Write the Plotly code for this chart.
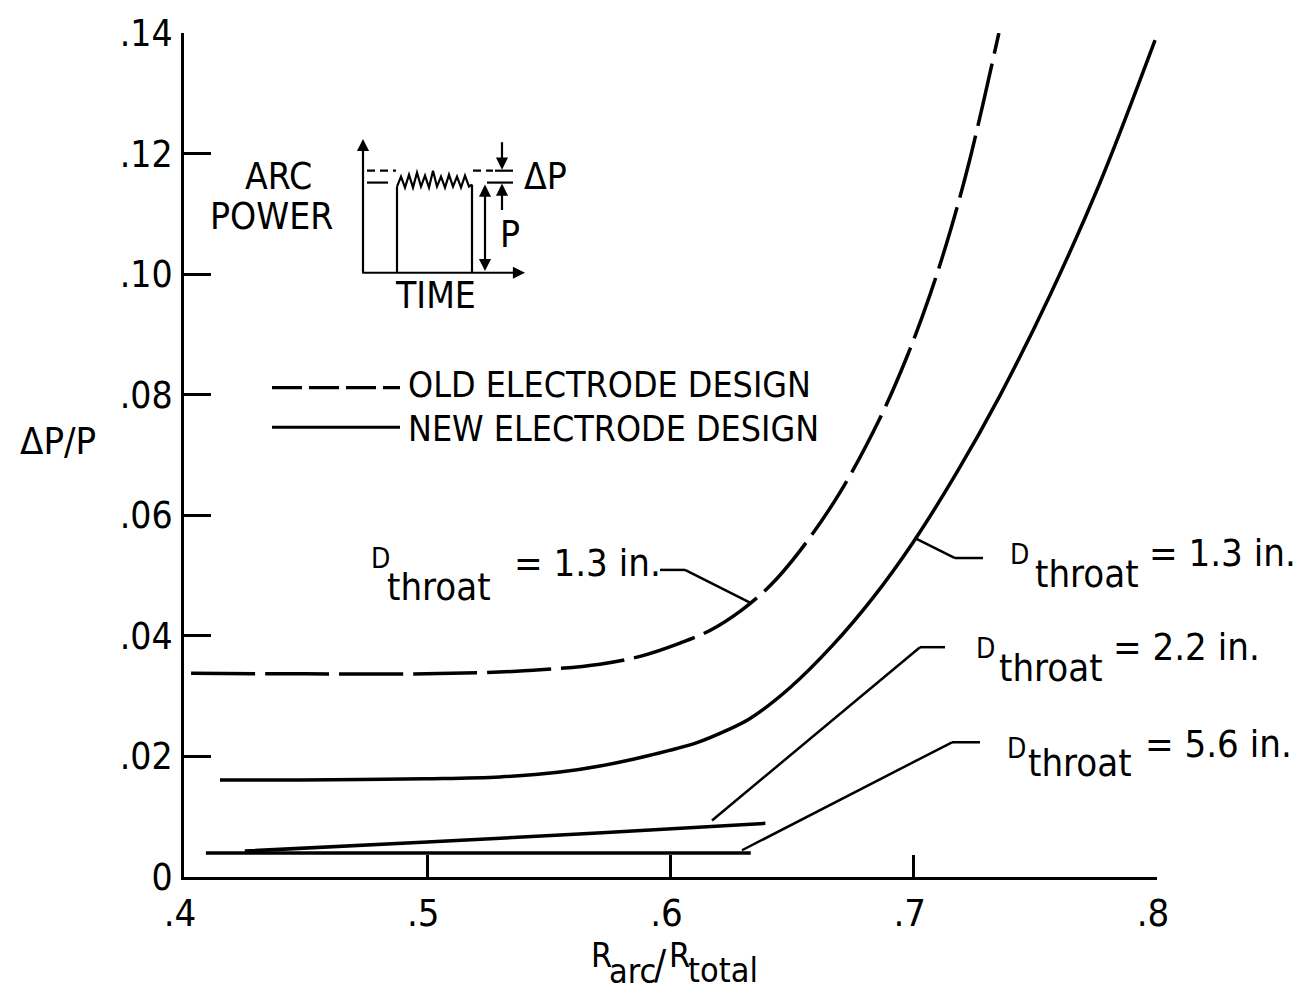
import plotly.graph_objects as go

# R_arc/R_total vs. arc-power fluctuation dP/P
old_13_x = [0.4029, 0.4497, 0.4995, 0.5398, 0.5710, 0.5875, 0.6039, 0.6162, 0.6290, 0.6409,
            0.6532, 0.6697, 0.6861, 0.6972, 0.7067, 0.7149, 0.7231, 0.7350]
old_13_y = [0.0338, 0.0337, 0.0337, 0.0342, 0.0353, 0.0366, 0.0388, 0.0409, 0.0442, 0.0483,
            0.0541, 0.0638, 0.0761, 0.0863, 0.0966, 0.1070, 0.1191, 0.1400]

new_13_x = [0.4148, 0.4477, 0.4995, 0.5299, 0.5546, 0.5710, 0.5916, 0.6109, 0.6224, 0.6327,
            0.6491, 0.6668, 0.6832, 0.6997, 0.7174, 0.7355, 0.7560, 0.7766, 0.7992]
new_13_y = [0.0161, 0.0161, 0.0163, 0.0166, 0.0174, 0.0184, 0.0202, 0.0223, 0.0242, 0.0263,
            0.0314, 0.0385, 0.0463, 0.0555, 0.0669, 0.0799, 0.0965, 0.1152, 0.1388]

new_22_x = [0.425, 0.50, 0.57, 0.639]
new_22_y = [0.0043, 0.0058, 0.0073, 0.0089]

new_56_x = [0.409, 0.50, 0.633]
new_56_y = [0.0040, 0.0040, 0.0040]

x_ticks = [0.4, 0.5, 0.6, 0.7, 0.8]
x_tick_text = [".4", ".5", ".6", ".7", ".8"]
y_ticks = [0, 0.02, 0.04, 0.06, 0.08, 0.10, 0.12, 0.14]
y_tick_text = ["0", ".02", ".04", ".06", ".08", ".10", ".12", ".14"]

FONT = "DejaVu Sans Condensed, Liberation Sans Narrow, DejaVu Sans, sans-serif"
INK = "black"

W, H = 1302, 995
L, R, T, B = 184, 1157, 25, 877


def px(x):
    return (x - L) / (R - L)


def py(y):
    return (B - y) / (B - T)


fig = go.Figure()

fig.add_trace(go.Scatter(x=old_13_x, y=old_13_y, mode="lines", name="OLD ELECTRODE DESIGN",
                         line=dict(color=INK, width=3.5, dash="64px,10px", shape="spline", smoothing=1.0)))
fig.add_trace(go.Scatter(x=new_13_x, y=new_13_y, mode="lines", name="NEW ELECTRODE DESIGN",
                         line=dict(color=INK, width=3.5, shape="spline", smoothing=1.0)))
fig.add_trace(go.Scatter(x=new_22_x, y=new_22_y, mode="lines", showlegend=False,
                         line=dict(color=INK, width=3.5, shape="spline", smoothing=1.0)))
fig.add_trace(go.Scatter(x=new_56_x, y=new_56_y, mode="lines", showlegend=False,
                         line=dict(color=INK, width=3.5)))

shapes = []
annotations = []


def seg(x0, y0, x1, y1, width=2.5, dash=None):
    d = dict(type="line", xref="paper", yref="paper",
             x0=px(x0), y0=py(y0), x1=px(x1), y1=py(y1),
             line=dict(color=INK, width=width))
    if dash:
        d["line"]["dash"] = dash
    shapes.append(d)


def text(s, x, y, size, xanchor="left", yanchor="middle"):
    annotations.append(dict(text=s, x=px(x), y=py(y), xref="paper", yref="paper",
                            xanchor=xanchor, yanchor=yanchor, showarrow=False,
                            font=dict(family=FONT, size=size, color=INK)))


def arrow(hx, hy, tx, ty, side="end"):
    annotations.append(dict(text="", x=px(hx), y=py(hy), xref="paper", yref="paper",
                            ax=tx - hx, ay=ty - hy, showarrow=True, arrowhead=2,
                            arrowsize=1.1, arrowwidth=2.2, arrowcolor=INK,
                            arrowside=side, startarrowhead=2, startarrowsize=1.1))


# legend keys
seg(272, 383, 400, 383, width=3.2, dash="30px,7px")
seg(272, 423, 400, 423, width=3.2)
text("OLD ELECTRODE DESIGN", 406, 380, 35.5)
text("NEW ELECTRODE DESIGN", 406, 424, 35.5)

# leader lines to curve labels
seg(750, 600, 685, 567, width=2.5)
seg(685, 567, 660, 567, width=2.5)
seg(915, 535, 955, 555, width=2.5)
seg(955, 555, 983, 555, width=2.5)
seg(712, 820, 920, 645, width=2.5)
seg(920, 645, 945, 645, width=2.5)
seg(742, 850, 952, 741, width=2.5)
seg(952, 741, 980, 741, width=2.5)


def throat_label(xd, yd, xt, yt, xv, yv, value):
    text("D", xd, yd, 28)
    text("throat", xt, yt, 38)
    text("= " + value + " in.", xv, yv, 38)


throat_label(369, 555, 385, 584, 512, 560, "1.3")
throat_label(1008, 551, 1033, 571, 1147, 550, "1.3")
throat_label(974, 646, 997, 666, 1111, 645, "2.2")
throat_label(1005, 747, 1026, 762, 1143, 743, "5.6")

# arc-power inset
text("ARC", 278, 170, 37, xanchor="center")
text("POWER", 271, 210, 37, xanchor="center")
text("TIME", 435, 290, 37, xanchor="center")
text("ΔP", 522, 170, 37)
text("P", 510, 228, 37, xanchor="center")

arrow(363, 132, 363, 268)
arrow(525, 267, 362, 267)
seg(397, 267, 397, 180, width=2.2)
seg(472, 267, 472, 178, width=2.2)
zig_x = [397, 401, 405, 409, 413, 417, 421, 425, 429, 433, 437, 441, 445, 449, 453, 457, 461, 465, 469, 472]
zig_y = [180, 170, 181, 168, 181, 166, 180, 169, 181, 164, 180, 170, 181, 168, 180, 170, 181, 169, 180, 178]
path = "M " + " L ".join(f"{px(a):.5f},{py(b):.5f}" for a, b in zip(zig_x, zig_y))
shapes.append(dict(type="path", xref="paper", yref="paper", path=path,
                   line=dict(color=INK, width=2.2)))
seg(367, 164, 396, 164, width=2.2, dash="8px,5px")
seg(473, 164, 493, 164, width=2.2, dash="8px,5px")
seg(495, 164, 513, 164, width=2.2)
seg(367, 176, 388, 176, width=2.2)
seg(487, 176, 513, 176, width=2.2)
arrow(502, 163, 502, 134)
arrow(502, 177, 502, 205)
arrow(485, 178, 485, 266, side="end+start")

# axis titles
text("ΔP/P", 18, 437, 38)
text("R", 589, 956, 34)
text("arc", 607, 972, 34)
text("/", 652, 966, 40)
text("R", 667, 956, 34)
text("total", 686, 971, 34)

fig.update_layout(
    width=W, height=H,
    margin=dict(l=L, r=W - R, t=T, b=H - B),
    paper_bgcolor="white", plot_bgcolor="white",
    showlegend=False,
    font=dict(family=FONT, size=38, color=INK),
    shapes=shapes, annotations=annotations,
    xaxis=dict(range=[0.4, 0.8], tickvals=x_ticks, ticktext=x_tick_text,
               ticks="inside", ticklen=22, tickwidth=2.5, tickcolor=INK,
               showline=True, linewidth=3, linecolor=INK, mirror=False,
               showgrid=False, zeroline=False, ticklabelstandoff=0, ticklabelshift=-4,
               tickfont=dict(family=FONT, size=38, color=INK)),
    yaxis=dict(range=[0, 0.14], tickvals=y_ticks, ticktext=y_tick_text,
               ticks="inside", ticklen=27, tickwidth=2.5, tickcolor=INK,
               showline=True, linewidth=3, linecolor=INK, mirror=False,
               showgrid=False, zeroline=False, ticklabelstandoff=1,
               tickfont=dict(family=FONT, size=37, color=INK)),
)

fig.write_html("out.html")
